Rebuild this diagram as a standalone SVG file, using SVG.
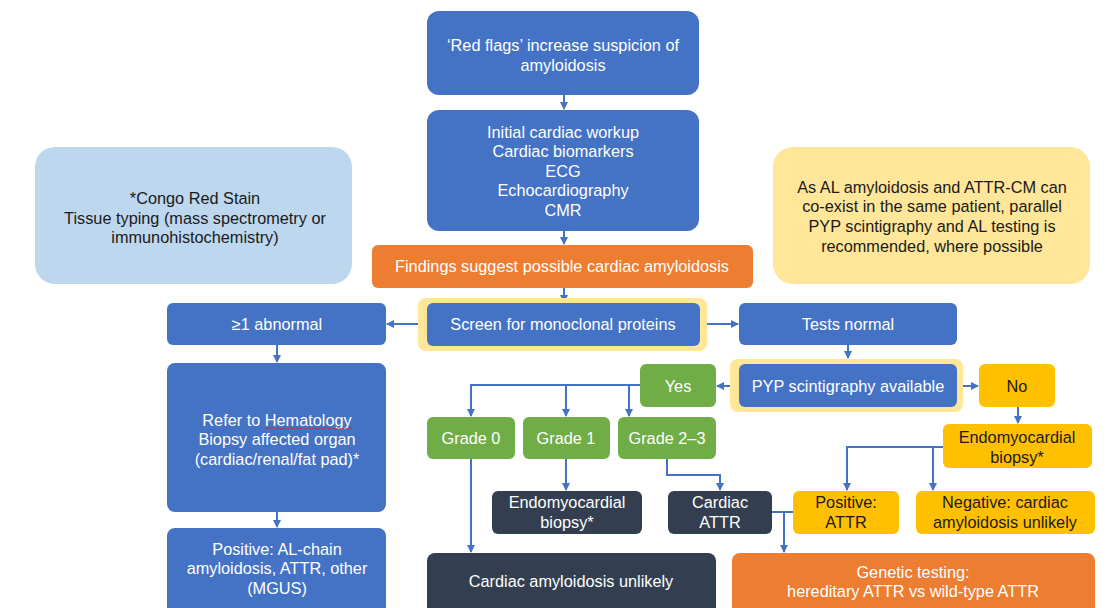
<svg xmlns="http://www.w3.org/2000/svg" width="1113" height="608" viewBox="0 0 1113 608">
<style>
text{font-family:"Liberation Sans",Arial,sans-serif;font-size:16.3px;text-anchor:middle}
.w{fill:#fff}
.k{fill:#1a1a1a}
.blue{fill:#4472C4}
.orange{fill:#ED7D31}
.green{fill:#70AD47}
.yellow{fill:#FFC000}
.dark{fill:#333F50}
.hl{fill:#FFE699}
.lb{fill:#BDD7EE}
.ly{fill:#FFE699}
.c{fill:none;stroke:#4472C4;stroke-width:2}
</style>
<defs>
<marker id="ah" markerWidth="8" markerHeight="8" refX="7" refY="4" orient="auto" markerUnits="userSpaceOnUse">
<path d="M0,0 L8,4 L0,8 Z" fill="#4472C4"/>
</marker>
</defs>
<rect width="1113" height="608" fill="#fff"/>
<g id="connectors">
<path class="c" d="M564,95 V109" marker-end="url(#ah)"/>
<path class="c" d="M564,231 V244" marker-end="url(#ah)"/>
<path class="c" d="M564,288 V302" marker-end="url(#ah)"/>
<path class="c" d="M418,324 H387" marker-end="url(#ah)"/>
<path class="c" d="M707,324 H738" marker-end="url(#ah)"/>
<path class="c" d="M277,345 V362" marker-end="url(#ah)"/>
<path class="c" d="M277,512 V527" marker-end="url(#ah)"/>
<path class="c" d="M848,345 V358" marker-end="url(#ah)"/>
<path class="c" d="M730,386 H717" marker-end="url(#ah)"/>
<path class="c" d="M962,386 H978" marker-end="url(#ah)"/>
<path class="c" d="M640,385 H471 V416" marker-end="url(#ah)"/>
<path class="c" d="M566,385 V416" marker-end="url(#ah)"/>
<path class="c" d="M629,385 V416" marker-end="url(#ah)"/>
<path class="c" d="M471,459 V552" marker-end="url(#ah)"/>
<path class="c" d="M566,459 V490" marker-end="url(#ah)"/>
<path class="c" d="M667,459 V475 H720 V490" marker-end="url(#ah)"/>
<path class="c" d="M772,512 H793"/>
<path class="c" d="M784,512 V552" marker-end="url(#ah)"/>
<path class="c" d="M1018,407 V423" marker-end="url(#ah)"/>
<path class="c" d="M943,447 H847 V490" marker-end="url(#ah)"/>
<path class="c" d="M933,447 V490" marker-end="url(#ah)"/>
</g>
<g id="redflags">
<rect class="blue" x="427" y="11" width="272" height="84" rx="12"/>
<text class="w" x="563" y="51">‘Red flags’ increase suspicion of</text>
<text class="w" x="563" y="71">amyloidosis</text>
</g>
<g id="workup">
<rect class="blue" x="427" y="110" width="272" height="121" rx="12"/>
<text class="w" x="563" y="138">Initial cardiac workup</text>
<text class="w" x="563" y="157">Cardiac biomarkers</text>
<text class="w" x="563" y="177">ECG</text>
<text class="w" x="563" y="196">Echocardiography</text>
<text class="w" x="563" y="216">CMR</text>
</g>
<g id="congo">
<rect class="lb" x="35" y="147" width="317" height="137" rx="20"/>
<text class="k" x="195" y="204">*Congo Red Stain</text>
<text class="k" x="195" y="224">Tissue typing (mass spectrometry or</text>
<text class="k" x="195" y="243">immunohistochemistry)</text>
</g>
<g id="note">
<rect class="ly" x="773" y="147" width="317" height="137" rx="20"/>
<text class="k" x="932" y="193">As AL amyloidosis and ATTR-CM can</text>
<text class="k" x="932" y="212">co-exist in the same patient, parallel</text>
<text class="k" x="932" y="232">PYP scintigraphy and AL testing is</text>
<text class="k" x="932" y="252">recommended, where possible</text>
</g>
<g id="findings">
<rect class="orange" x="372" y="245" width="381" height="43" rx="6"/>
<text class="w" x="562" y="272">Findings suggest possible cardiac amyloidosis</text>
</g>
<g id="screen">
<rect class="hl" x="418" y="298" width="289" height="53" rx="8"/>
<rect class="blue" x="427" y="303" width="273" height="43" rx="6"/>
<text class="w" x="563" y="330">Screen for monoclonal proteins</text>
</g>
<g id="abnormal">
<rect class="blue" x="167" y="303" width="219" height="42" rx="6"/>
<text class="w" x="277" y="330">≥1 abnormal</text>
</g>
<g id="normal">
<rect class="blue" x="739" y="303" width="218" height="42" rx="6"/>
<text class="w" x="848" y="330">Tests normal</text>
</g>
<g id="refer">
<rect class="blue" x="167" y="363" width="219" height="149" rx="8"/>
<text class="w" x="277" y="426">Refer to Hematology</text>
<path d="M265,428.5 q1.5,-1.5 3,0 t3,0 t3,0 t3,0 t3,0 t3,0 t3,0 t3,0 t3,0 t3,0 t3,0 t3,0 t3,0 t3,0 t3,0 t3,0 t3,0 t3,0 t3,0 t3,0 t3,0 t3,0 t3,0 t3,0 t3,0 t3,0 t3,0 t3,0 t3,0" fill="none" stroke="#d9262c" stroke-width="0.9"/>
<text class="w" x="277" y="445">Biopsy affected organ</text>
<text class="w" x="277" y="465">(cardiac/renal/fat pad)*</text>
</g>
<g id="positiveAL">
<rect class="blue" x="167" y="528" width="219" height="90" rx="8"/>
<text class="w" x="277" y="555">Positive: AL-chain</text>
<text class="w" x="277" y="574">amyloidosis, ATTR, other</text>
<text class="w" x="277" y="594">(MGUS)</text>
</g>
<g id="pyp">
<rect class="hl" x="730" y="359" width="233" height="53" rx="8"/>
<rect class="blue" x="739" y="364" width="218" height="43" rx="6"/>
<text class="w" x="848" y="392">PYP scintigraphy available</text>
</g>
<g id="yes">
<rect class="green" x="640" y="364" width="76" height="43" rx="6"/>
<text class="w" x="678" y="392">Yes</text>
</g>
<g id="no">
<rect class="yellow" x="979" y="364" width="76" height="43" rx="6"/>
<text class="k" x="1017" y="392">No</text>
</g>
<g id="grade0">
<rect class="green" x="427" y="417" width="88" height="42" rx="6"/>
<text class="w" x="471" y="444">Grade 0</text>
</g>
<g id="grade1">
<rect class="green" x="523" y="417" width="87" height="42" rx="6"/>
<text class="w" x="566" y="444">Grade 1</text>
</g>
<g id="grade23">
<rect class="green" x="618" y="417" width="98" height="42" rx="6"/>
<text class="w" x="667" y="444">Grade 2–3</text>
</g>
<g id="endo1">
<rect class="dark" x="492" y="491" width="150" height="43" rx="6"/>
<text class="w" x="567" y="508">Endomyocardial</text>
<text class="w" x="567" y="528">biopsy*</text>
</g>
<g id="cattr">
<rect class="dark" x="668" y="491" width="104" height="43" rx="6"/>
<text class="w" x="720" y="508">Cardiac</text>
<text class="w" x="720" y="528">ATTR</text>
</g>
<g id="unlikely">
<rect class="dark" x="427" y="553" width="289" height="65" rx="8"/>
<text class="w" x="571" y="587">Cardiac amyloidosis unlikely</text>
</g>
<g id="endo2">
<rect class="yellow" x="943" y="424" width="149" height="44" rx="6"/>
<text class="k" x="1017" y="443">Endomyocardial</text>
<text class="k" x="1017" y="463">biopsy*</text>
</g>
<g id="posattr">
<rect class="yellow" x="793" y="491" width="106" height="43" rx="6"/>
<text class="k" x="846" y="508">Positive:</text>
<text class="k" x="846" y="528">ATTR</text>
</g>
<g id="negative">
<rect class="yellow" x="916" y="491" width="179" height="43" rx="6"/>
<text class="k" x="1005" y="508">Negative: cardiac</text>
<text class="k" x="1005" y="528">amyloidosis unlikely</text>
</g>
<g id="genetic">
<rect class="orange" x="732" y="553" width="363" height="65" rx="8"/>
<text class="w" x="913" y="578">Genetic testing:</text>
<text class="w" x="913" y="597">hereditary ATTR vs wild-type ATTR</text>
</g>
</svg>
